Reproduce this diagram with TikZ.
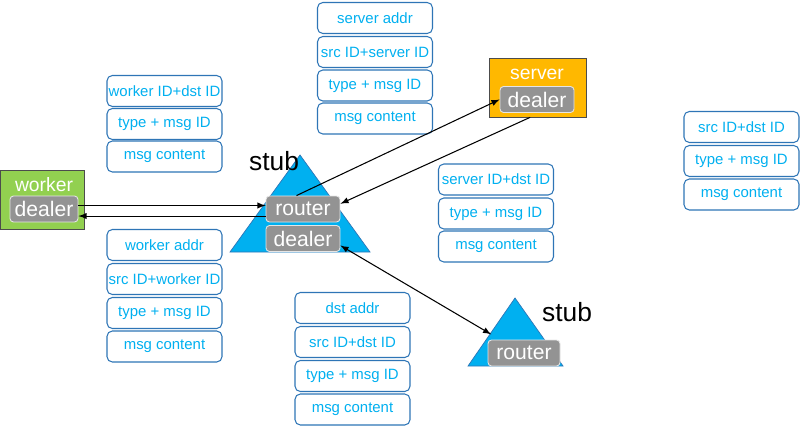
\documentclass[tikz,border=0pt]{standalone}
\usepackage{fontspec}
\setmainfont{Liberation Sans}
\definecolor{cy}{HTML}{00B0F0}
\definecolor{bd}{HTML}{2E75B6}
\definecolor{gr}{HTML}{92D050}
\definecolor{og}{HTML}{FFB800}
\begin{document}
\begin{tikzpicture}[x=0.02cm,y=-0.02cm,
 msg/.style={draw=bd,rounded corners=3pt,line width=0.6pt,fill=white,minimum width=2.3cm,minimum height=0.62cm,text=cy,font=\fontsize{8.5}{10}\selectfont,inner sep=0pt},
 gray/.style={draw=white!80!gray,line width=0.5pt,fill=gray!85,rounded corners=2pt,text=white,font=\fontsize{12}{13}\selectfont,inner sep=0pt,minimum height=0.52cm},
 tri/.style={fill=cy,draw=bd,line width=0.4pt},
 arr/.style={-latex,line width=0.6pt}]
\useasboundingbox (0,0) rectangle (800,426);
% worker
\node[draw=gray!60!black,fill=gr,minimum width=1.68cm,minimum height=1.18cm,inner sep=0pt] (wbox) at (42,199.5) {};
\node[text=white,font=\fontsize{11}{13}\selectfont] (wl) at (44,185) {worker};
\node[gray,minimum width=1.36cm] (wd) at (44,209) {dealer};
% server
\node[draw=gray!60!black,fill=og,minimum width=1.94cm,minimum height=1.18cm,inner sep=0pt] (sbox) at (537.5,87.5) {};
\node[text=white,font=\fontsize{11}{13}\selectfont] (sl) at (537,74) {server};
\node[gray,minimum width=1.48cm] (sd) at (537,99.5) {dealer};
% big stub
\path[tri] (300,155) -- (370,252) -- (230,252) -- cycle;
\node[font=\fontsize{15}{16}\selectfont] (st1) at (274,161) {stub};
\node[gray,minimum width=1.48cm] (r1) at (303,209) {router};
\node[gray,minimum width=1.48cm] (d1) at (303,238.5) {dealer};
% small stub
\path[tri] (515,298) -- (563,366) -- (468,366) -- cycle;
\node[font=\fontsize{15}{16}\selectfont] (st2) at (567,312) {stub};
\node[gray,minimum width=1.44cm] (r2) at (524,353) {router};
% messages
\foreach \n/\x/\y/\t in {a1/164.5/91/worker ID+dst ID, a2/164.5/124/type + msg ID, a3/164.5/156.5/msg content,
 b1/164.5/245/worker addr, b2/164.5/279/src ID+worker ID, b3/164.5/313/type + msg ID, b4/164.5/346.5/msg content,
 c1/375/18/server addr, c2/375/52/src ID+server ID, c3/375/85.5/type + msg ID, c4/375/118.5/msg content,
 d1m/496/179.5/server ID+dst ID, d2/496/213.5/type + msg ID, d3/496/246.5/msg content,
 e1/741.5/127/src ID+dst ID, e2/741.5/161/type + msg ID, e3/741.5/194.5/msg content,
 f1/352.5/308/dst addr, f2/352.5/342/src ID+dst ID, f3/352.5/376/type + msg ID, f4/352.5/409.5/msg content}
 \node[msg] (\n) at (\x,\y) {\t};
% arrows
\draw[arr] ([yshift=2pt]wd.east) -- ([yshift=2pt]r1.west);
\draw[arr] ([yshift=-4pt]r1.west) -- ([yshift=-4pt]wd.east);
\draw[arr] ([xshift=-25pt]r1.north east) -- (sd.west);
\draw[arr] ([xshift=-32pt]sbox.south east) -- ([yshift=3pt]r1.east);
\draw[latex-latex,line width=0.6pt] ([yshift=-4pt]d1.east) -- ([xshift=2pt,yshift=3pt]r2.north west);
\end{tikzpicture}
\end{document}
